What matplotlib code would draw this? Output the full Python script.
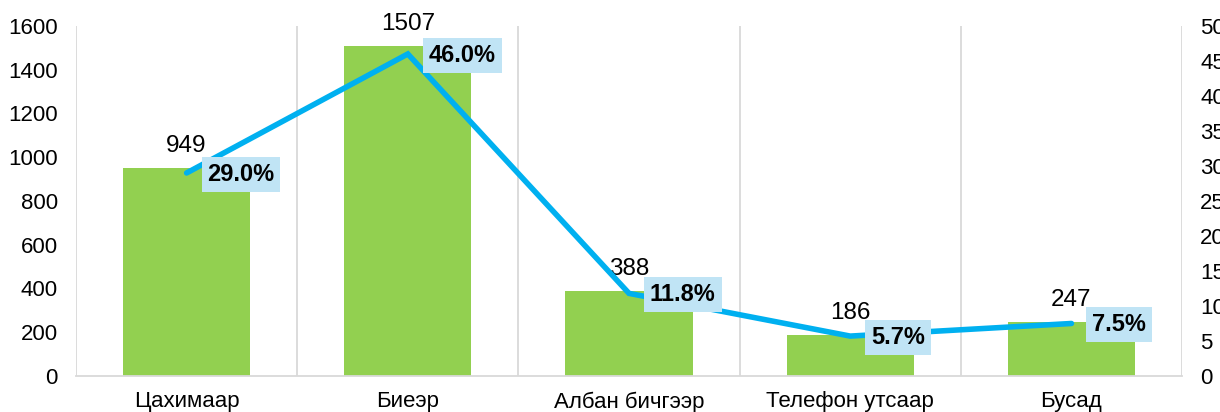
import numpy as np
import matplotlib.pyplot as plt

categories = ['Цахимаар', 'Биеэр', 'Албан бичгээр', 'Телефон утсаар', 'Бусад']
counts = [949, 1507, 388, 186, 247]
shares = [29.0, 46.0, 11.8, 5.7, 7.5]

plt.rcParams['font.family'] = ['Liberation Sans', 'DejaVu Sans']

fig = plt.figure(figsize=(12.2, 4.12), dpi=100)
ax = fig.add_axes([0.0623, 0.0874, 0.9066, 0.8496])
x = np.arange(len(categories))

ax.bar(x, counts, width=0.575, color='#92D050', zorder=2)
for xi, c in zip(x, counts):
    ax.annotate(str(c), (xi, c), xytext=(0, 8), textcoords='offset points',
                ha='center', va='bottom', fontsize=17.5, zorder=6)

ax.set_xlim(-0.5, len(categories) - 0.5)
ax.set_ylim(0, 1600)
ax.set_yticks(np.arange(0, 1601, 200))
ax.set_xticks(x)
ax.set_xticklabels(categories)
ax.set_xticks(np.arange(-0.5, len(categories)), minor=True)
ax.grid(True, axis='x', which='minor', color='#D9D9D9', linewidth=1.3, zorder=0)
ax.tick_params(axis='both', which='both', length=0, labelsize=16)
ax.tick_params(axis='x', pad=11)
ax.tick_params(axis='y', pad=13)
for s in ['top', 'left', 'right']:
    ax.spines[s].set_visible(False)
ax.spines['bottom'].set_color('#D9D9D9')
ax.spines['bottom'].set_linewidth(1.3)

ax2 = ax.twinx()
ax2.plot(x, shares, color='#00B0F0', linewidth=4, solid_capstyle='round',
         solid_joinstyle='miter', zorder=3)
ax2.set_ylim(0, 50)
ax2.set_yticks(np.arange(0, 51, 5))
ax2.tick_params(axis='y', length=0, labelsize=16, pad=13)
for s in ['top', 'left', 'right', 'bottom']:
    ax2.spines[s].set_visible(False)
for xi, v in zip(x, shares):
    ax2.annotate(f'{v:.1f}%', (xi, v), xytext=(15, -1), textcoords='offset points',
                 ha='left', va='center', fontsize=17, fontweight='bold',
                 bbox=dict(boxstyle='square,pad=0.25', fc='#C0E4F5', ec='none'),
                 zorder=5)

fig.savefig('out.png', dpi=100)
